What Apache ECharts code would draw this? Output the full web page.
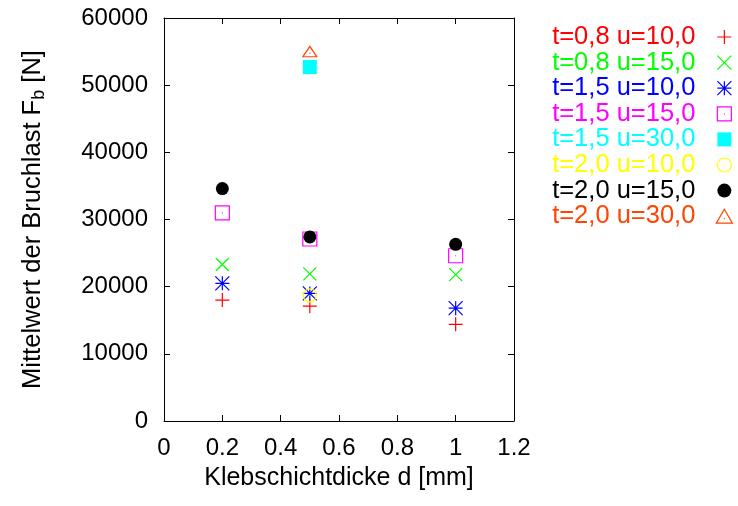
<!DOCTYPE html>
<html>
<head>
<meta charset="utf-8">
<script src="https://cdn.jsdelivr.net/npm/echarts@6/dist/echarts.min.js"></script>
<style>html,body{margin:0;padding:0;background:#fff}#c{width:738px;height:506px}</style>
</head>
<body>
<div id="c"></div>
<script>
// ---- data ----
const seriesNames = ['t=0,8 u=10,0','t=0,8 u=15,0','t=1,5 u=10,0','t=1,5 u=15,0','t=1,5 u=30,0','t=2,0 u=10,0','t=2,0 u=15,0','t=2,0 u=30,0'];
const xAll = [0.2, 0.5, 1.0];
const xMid = [0.5];
const t08u10 = [18000, 17100, 14400];
const t08u15 = [23300, 21900, 21800];
const t15u10 = [20500, 19000, 16800];
const t15u15 = [31000, 27100, 24600];
const t15u30 = [52700];
const t20u10 = [18700];
const t20u15 = [34600, 27400, 26300];
const t20u30 = [55000];
const xTicks = [0, 0.2, 0.4, 0.6, 0.8, 1, 1.2];
const yTicks = [0, 10000, 20000, 30000, 40000, 50000, 60000];

const colors = ['#ff0000','#00ff00','#0000ff','#ff00ff','#00ffff','#ffff00','#000000','#ff4500'];
const syms = [
  'path://M0,5L10,5M5,0L5,10',
  'path://M0,0L10,10M10,0L0,10',
  'path://M0,5L10,5M5,0L5,10M0,0L10,10M10,0L0,10',
  'path://M0,0L10,0L10,10L0,10ZM4.7,5L5.3,5',
  'path://M0,0L10,0L10,10L0,10Z',
  'path://M0,5A5,5,0,1,1,10,5A5,5,0,1,1,0,5ZM4.7,5L5.3,5',
  'circle',
  'path://M5,0L10,8.7L0,8.7ZM4.7,5.8L5.3,5.8'
];
const filled = [false,false,false,false,true,false,true,false];
const sizes = [14,13,14,14,14,13,13,[14,12]];
const xsFor = [xAll,xAll,xAll,xAll,xMid,xMid,xAll,xMid];
const ysFor = [t08u10,t08u15,t15u10,t15u15,t15u30,t20u10,t20u15,t20u30];

const FONT = 'Liberation Sans';
const styleFor = i => filled[i] ? {color: colors[i], borderWidth: 0, opacity: 1}
                                : {color: 'rgba(0,0,0,0)', borderColor: colors[i], borderWidth: 1.2, opacity: 1};
const series = seriesNames.map((n,i)=>({
  name: n,
  type: 'scatter',
  symbol: syms[i],
  symbolSize: sizes[i],
  symbolKeepAspect: true,
  data: xsFor[i].map((x,k)=>[x, ysFor[i][k]]),
  itemStyle: styleFor(i),
  emphasis: {disabled: true},
  animation: false
}));

const axisCommon = {
  axisLine: {show: true, onZero: false, lineStyle: {color: '#000', width: 1}},
  axisTick: {show: true, inside: true, length: 6, lineStyle: {color: '#000'}},
  splitLine: {show: false}
};

const chart = echarts.init(document.getElementById('c'), null, {renderer: 'canvas'});
chart.setOption({
  animation: false,
  backgroundColor: '#fff',
  grid: {left: 164, right: 224, top: 18, bottom: 85, containLabel: false},
  xAxis: [
    Object.assign({type: 'value', min: xTicks[0], max: xTicks[xTicks.length-1], interval: 0.2, position: 'bottom',
      name: 'Klebschichtdicke d [mm]', nameLocation: 'middle', nameGap: 45,
      nameTextStyle: {fontFamily: FONT, fontSize: 25, color: '#000'},
      axisLabel: {fontFamily: FONT, fontSize: 24, color: '#000', margin: 15, formatter: v => String(+v.toFixed(1))}}, axisCommon),
    Object.assign({type: 'value', min: xTicks[0], max: xTicks[xTicks.length-1], interval: 0.2, position: 'top',
      axisLabel: {show: false}}, axisCommon)
  ],
  yAxis: [
    Object.assign({type: 'value', min: yTicks[0], max: yTicks[yTicks.length-1], interval: 10000, position: 'left',
      name: '{a|Mittelwert der Bruchlast F}{s|b}{a| [N]}', nameLocation: 'middle', nameGap: 116,
      nameTextStyle: {fontFamily: FONT, fontSize: 25, color: '#000',
        rich: {a: {fontFamily: FONT, fontSize: 25.5, color: '#000'},
               s: {fontFamily: FONT, fontSize: 18, color: '#000', padding: [12,0,0,0]}}},
      axisLabel: {fontFamily: FONT, fontSize: 24, color: '#000', margin: 16, formatter: v => String(v)}}, axisCommon),
    Object.assign({type: 'value', min: yTicks[0], max: yTicks[yTicks.length-1], interval: 10000, position: 'right',
      axisLabel: {show: false}}, axisCommon)
  ],
  legend: {
    orient: 'vertical', right: 0, top: 19, align: 'right',
    itemWidth: 26, itemHeight: 14, itemGap: -0.4,
    symbolKeepAspect: true,
    selectedMode: false,
    itemStyle: {borderWidth: 1},
    textStyle: {fontFamily: FONT, fontSize: 25.5, padding: [0, 11, 0, 0]},
    data: seriesNames.map((n,i)=>({name: n, textStyle: {color: colors[i]}, itemStyle: styleFor(i)}))
  },
  series: series
});
</script>
</body>
</html>
